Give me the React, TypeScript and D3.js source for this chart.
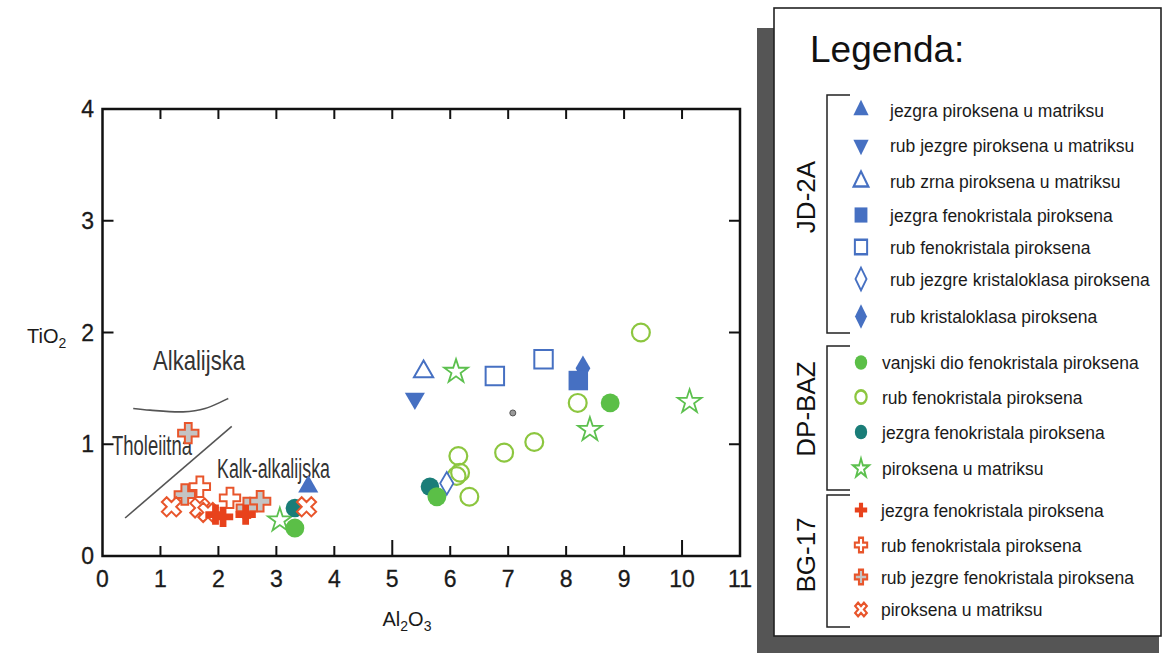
import React from 'react';
import * as d3 from 'd3';

// ---------- data ----------
const xTickValues = [0, 1, 2, 3, 4, 5, 6, 7, 8, 9, 10, 11];
const yTickValues = [0, 1, 2, 3, 4];

// JD-2A
const jdCoreMatrix = [[3.55, 0.62]];
const jdCoreRimMatrix = [[5.39, 1.41]];
const jdGrainRimMatrix = [[5.54, 1.65]];
const jdPhenoCore = [[8.21, 1.57]];
const jdPhenoRim = [[6.77, 1.61], [7.61, 1.76]];
const jdClastCoreRim = [[5.94, 0.65]];
const jdClastRim = [[8.29, 1.68]];

// DP-BAZ
const dpOuterPheno = [[3.32, 0.25], [5.77, 0.53], [8.76, 1.37]];
const dpPhenoRim = [[6.14, 0.895], [6.93, 0.925], [7.45, 1.02], [6.17, 0.745], [6.11, 0.716], [6.33, 0.53], [8.2, 1.37], [9.29, 2.0]];
const dpPhenoCore = [[3.32, 0.43], [5.65, 0.62]];
const dpMatrix = [[3.06, 0.32], [6.1, 1.65], [8.41, 1.13], [10.13, 1.38]];

// BG-17
const bgPhenoCore = [[1.95, 0.37], [2.08, 0.35], [2.47, 0.37]];
const bgPhenoRim = [[1.68, 0.62], [2.2, 0.52]];
const bgPhenoCoreRim = [[1.48, 1.1], [1.42, 0.55], [2.72, 0.49], [2.49, 0.43]];
const bgMatrix = [[1.19, 0.44], [1.68, 0.43], [1.82, 0.39], [3.52, 0.44]];

// boundary lines
const alkalineCurve = [[0.53, 1.32], [0.82, 1.305], [1.39, 1.29], [1.77, 1.32], [2.17, 1.41]];
const tholeiiticLine = [[0.39, 0.34], [2.23, 1.16]];

const groupNames = ['JD-2A', 'DP-BAZ', 'BG-17'];
const jdLabels = [
  'jezgra piroksena u matriksu',
  'rub jezgre piroksena u matriksu',
  'rub zrna piroksena u matriksu',
  'jezgra fenokristala piroksena',
  'rub fenokristala piroksena',
  'rub jezgre kristaloklasa piroksena',
  'rub kristaloklasa piroksena',
];
const dpLabels = [
  'vanjski dio fenokristala piroksena',
  'rub fenokristala piroksena',
  'jezgra fenokristala piroksena',
  'piroksena u matriksu',
];
const bgLabels = [
  'jezgra fenokristala piroksena',
  'rub fenokristala piroksena',
  'rub jezgre fenokristala piroksena',
  'piroksena u matriksu',
];

// ---------- styles ----------
const BLUE = '#4670c2';
const GREEN = '#5bbf47';
const LGREEN = '#8cc63f';
const TEAL = '#1a7d78';
const STARG = '#5cc04e';
const RED = '#e8421c';
const ORANGE = '#e8552b';

type Kind = string;
const STY: Record<Kind, any> = {
  triUp: { type: d3.symbolTriangle, fill: BLUE, stroke: 'none', sw: 0, rot: 0, p: 175, l: 100 },
  triDown: { type: d3.symbolTriangle, fill: BLUE, stroke: 'none', sw: 0, rot: 180, p: 175, l: 100 },
  triOpen: { type: d3.symbolTriangle, fill: '#fff', stroke: BLUE, sw: 2, rot: 0, p: 160, l: 95 },
  sqFill: { type: d3.symbolSquare, fill: BLUE, stroke: 'none', sw: 0, rot: 0, p: 380, l: 165 },
  sqOpen: { type: d3.symbolSquare, fill: 'none', stroke: BLUE, sw: 2, rot: 0, p: 340, l: 150 },
  diaOpen: { type: d3.symbolDiamond, fill: '#fff', stroke: BLUE, sw: 1.8, rot: 0, p: 150, l: 105 },
  diaFill: { type: d3.symbolDiamond, fill: BLUE, stroke: 'none', sw: 0, rot: 0, p: 190, l: 125 },
  circFill: { type: d3.symbolCircle, fill: GREEN, stroke: 'none', sw: 0, rot: 0, p: 280, l: 120 },
  circOpen: { type: d3.symbolCircle, fill: 'none', stroke: LGREEN, sw: 2.2, rot: 0, p: 250, l: 100 },
  circTeal: { type: d3.symbolCircle, fill: TEAL, stroke: 'none', sw: 0, rot: 0, p: 270, l: 120 },
  starOpen: { type: d3.symbolStar, fill: '#fff', stroke: STARG, sw: 1.8, rot: 0, p: 175, l: 80 },
  crossFill: { type: d3.symbolCross, fill: RED, stroke: 'none', sw: 0, rot: 0, p: 230, l: 85 },
  crossOpen: { type: d3.symbolCross, fill: '#fff', stroke: ORANGE, sw: 2, rot: 0, p: 230, l: 85 },
  crossGray: { type: d3.symbolCross, fill: '#c4c4c4', stroke: ORANGE, sw: 2, rot: 0, p: 230, l: 85 },
  xOpen: { type: d3.symbolCross, fill: '#fff', stroke: ORANGE, sw: 2, rot: 45, p: 230, l: 85 },
};

// series table (drawing order)
const series = [
  { kind: 'starOpen', data: dpMatrix },
  { kind: 'circOpen', data: dpPhenoRim },
  { kind: 'diaOpen', data: jdClastCoreRim },
  { kind: 'circTeal', data: dpPhenoCore },
  { kind: 'circFill', data: dpOuterPheno },
  { kind: 'triOpen', data: jdGrainRimMatrix },
  { kind: 'triDown', data: jdCoreRimMatrix },
  { kind: 'sqOpen', data: jdPhenoRim },
  { kind: 'diaFill', data: jdClastRim },
  { kind: 'sqFill', data: jdPhenoCore },
  { kind: 'crossGray', data: bgPhenoCoreRim },
  { kind: 'crossOpen', data: bgPhenoRim },
  { kind: 'xOpen', data: bgMatrix },
  { kind: 'crossFill', data: bgPhenoCore },
  { kind: 'triUp', data: jdCoreMatrix },
];

const legendGroups = [
  { name: groupNames[0], kinds: ['triUp', 'triDown', 'triOpen', 'sqFill', 'sqOpen', 'diaOpen', 'diaFill'], labels: jdLabels,
    ys: [110, 145, 181.5, 215, 247, 279, 316.5], tx: 890, y0: 95, y1: 333, cy: 197 },
  { name: groupNames[1], kinds: ['circFill', 'circOpen', 'circTeal', 'starOpen'], labels: dpLabels,
    ys: [362.5, 397, 432, 468.5], tx: 882, y0: 346, y1: 490, cy: 409 },
  { name: groupNames[2], kinds: ['crossFill', 'crossOpen', 'crossGray', 'xOpen'], labels: bgLabels,
    ys: [510, 545, 577, 609.5], tx: 881, y0: 495, y1: 627, cy: 555 },
];

const FONT = "'Liberation Sans', Arial, Helvetica, sans-serif";

function Marker({ kind, cx, cy, legend }: { kind: Kind; cx: number; cy: number; legend?: boolean }) {
  const s = STY[kind];
  const d = d3.symbol().type(s.type).size(legend ? s.l : s.p)() as string;
  const sy = legend ? 1.18 : 1;
  return (
    <path
      d={d}
      transform={`translate(${cx},${cy}) scale(1,${sy}) rotate(${s.rot})`}
      fill={s.fill}
      stroke={s.stroke}
      strokeWidth={s.sw}
      strokeLinejoin="miter"
    />
  );
}

export default function App() {
  const W = 1166, H = 653;
  const x = d3.scaleLinear().domain([0, 11]).range([102.5, 740]);
  const y = d3.scaleLinear().domain([0, 4]).range([556, 109]);
  const x0 = x(0), x1 = x(11), y0 = y(0), y1 = y(4);

  const curve = d3.line<number[]>().x(d => x(d[0])).y(d => y(d[1])).curve(d3.curveCatmullRom.alpha(0.5));
  const straight = d3.line<number[]>().x(d => x(d[0])).y(d => y(d[1]));

  return (
    <svg width={W} height={H} style={{ position: 'absolute', left: 0, top: 0, background: '#fff' }} fontFamily={FONT}>
      <rect x={0} y={0} width={W} height={H} fill="#fff" />

      {/* boundary lines */}
      <path d={curve(alkalineCurve) as string} fill="none" stroke="#555" strokeWidth={1.6} />
      <path d={straight(tholeiiticLine) as string} fill="none" stroke="#555" strokeWidth={1.6} />

      {/* field labels */}
      <text x={153} y={370} fontSize={28} fill="#333" textLength={92} lengthAdjust="spacingAndGlyphs">Alkalijska</text>
      <text x={112} y={455} fontSize={28} fill="#333" textLength={80} lengthAdjust="spacingAndGlyphs">Tholeiitna</text>
      <text x={217} y={478} fontSize={27} fill="#333" textLength={113} lengthAdjust="spacingAndGlyphs">Kalk-alkalijska</text>

      {/* points */}
      {series.map((s, i) => (
        <g key={i}>
          {s.data.map((d, j) => <Marker key={j} kind={s.kind} cx={x(d[0])} cy={y(d[1])} />)}
        </g>
      ))}
      {/* small reference dot */}
      <circle cx={x(7.08)} cy={y(1.28)} r={3} fill="#999" stroke="#555" strokeWidth={1} />

      {/* frame */}
      <rect x={x0} y={y1} width={x1 - x0} height={y0 - y1} fill="none" stroke="#111" strokeWidth={2.5} />
      {xTickValues.filter(v => v > 0 && v < 11).map(v => (
        <g key={'xt' + v}>
          <line x1={x(v)} x2={x(v)} y1={y0} y2={y0 - (v % 5 === 0 ? 16 : 10)} stroke="#111" strokeWidth={2} />
          <line x1={x(v)} x2={x(v)} y1={y1} y2={y1 + 10} stroke="#111" strokeWidth={2} />
        </g>
      ))}
      {yTickValues.filter(v => v > 0 && v < 4).map(v => (
        <g key={'yt' + v}>
          <line x1={x0} x2={x0 + 11} y1={y(v)} y2={y(v)} stroke="#111" strokeWidth={2} />
          <line x1={x1} x2={x1 - 11} y1={y(v)} y2={y(v)} stroke="#111" strokeWidth={2} />
        </g>
      ))}
      {xTickValues.map(v => (
        <text key={'xl' + v} x={x(v)} y={587} fontSize={23} textAnchor="middle" fill="#1a1a1a" stroke="#1a1a1a" strokeWidth={0.3}>{v}</text>
      ))}
      {yTickValues.map(v => (
        <text key={'yl' + v} x={94} y={y(v) + 8} fontSize={23} textAnchor="end" fill="#1a1a1a" stroke="#1a1a1a" strokeWidth={0.3}>{v}</text>
      ))}

      {/* axis titles */}
      <text x={27} y={343} fontSize={20} fill="#1a1a1a">TiO<tspan fontSize={14} dy={5}>2</tspan></text>
      <text x={407} y={626} fontSize={20} fill="#1a1a1a" textAnchor="middle">
        Al<tspan fontSize={14} dy={5}>2</tspan><tspan dy={-5}>O</tspan><tspan fontSize={14} dy={5}>3</tspan>
      </text>

      {/* legend */}
      <rect x={757} y={28} width={402} height={630} fill="#555" />
      <rect x={774} y={8} width={387} height={628} fill="#fff" stroke="#222" strokeWidth={1.6} />
      <text x={810} y={62} fontSize={37} fill="#111">Legenda:</text>
      {legendGroups.map((g, gi) => (
        <g key={'lg' + gi}>
          <path d={`M850,${g.y0}H827V${g.y1}H850`} fill="none" stroke="#222" strokeWidth={1.5} />
          <text transform={`translate(815,${g.cy}) rotate(-90)`} fontSize={26} textAnchor="middle" fill="#111">{g.name}</text>
          {g.kinds.map((k, i) => (
            <g key={k}>
              <Marker kind={k} cx={861} cy={g.ys[i]} legend />
              <text x={g.tx} y={g.ys[i] + 6.5} fontSize={17.5} fill="#1a1a1a">{g.labels[i]}</text>
            </g>
          ))}
        </g>
      ))}
    </svg>
  );
}
